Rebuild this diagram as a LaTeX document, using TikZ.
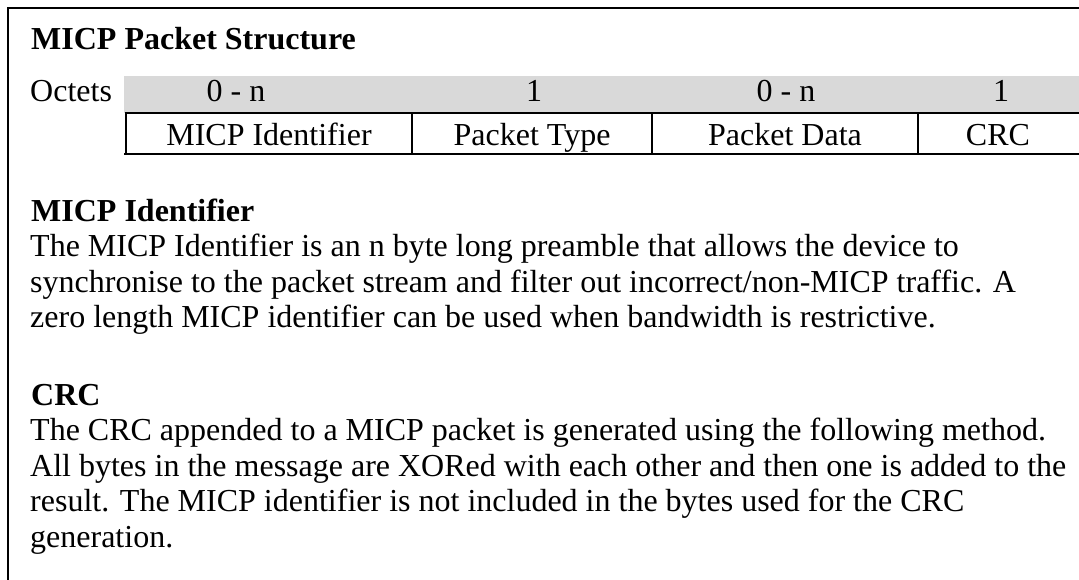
\documentclass[tikz,border=0pt]{standalone}
\usepackage{fontspec}
\setmainfont{Liberation Serif}
\begin{document}
\begin{tikzpicture}[x=1pt,y=-1pt,
  txt/.style={inner sep=0pt,anchor=base west,font=\fontsize{32}{35.5}\selectfont},
  hd/.style={txt,font=\fontsize{32}{35.5}\selectfont\bfseries},
  cell/.style={inner sep=0pt,anchor=base,font=\fontsize{32}{35.5}\selectfont},
  rule/.style={line width=2pt,black}]
\useasboundingbox (0,0) rectangle (1079,579);
% frame
\coordinate (ftl) at (8,8);
\coordinate (ftr) at (1079,8);
\coordinate (fbl) at (8,579);
\draw[rule,line cap=rect] (fbl) -- (ftl) -- (ftr);
% header gray band
\fill[black!15] (124,76) rectangle (1079,113);
% table lines
\coordinate (t1) at (126,113);
\coordinate (t2) at (1079,113);
\coordinate (b1) at (124,154);
\coordinate (b2) at (1079,154);
\draw[rule] (t1) -- (t2);
\draw[rule] (b1) -- (b2);
\draw[rule] (126,112) -- (126,155);
\draw[rule] (412,113) -- (412,154);
\draw[rule] (652,113) -- (652,154);
\draw[rule] (918,113) -- (918,154);
% title
\node[hd] (title) at (31,49) {MICP Packet Structure};
\node[txt] (oct) at (30,101) {Octets};
\node[cell] (h1) at (236,101) {0 - n};
\node[cell] (h2) at (534,101) {1};
\node[cell] (h3) at (786,101) {0 - n};
\node[cell] (h4) at (1001,101) {1};
\node[cell] (c1) at (269,145) {MICP Identifier};
\node[cell] (c2) at (532,145) {Packet Type};
\node[cell] (c3) at (785,145) {Packet Data};
\node[cell] (c4) at (998,145) {CRC};
% MICP Identifier paragraph
\node[hd] (h-id) at (31,221) {MICP Identifier};
\node[txt] (l1) at (30,256.5) {The MICP Identifier is an n byte long preamble that allows the device to};
\node[txt] (l2) at (30,292) {synchronise to the packet stream and filter out incorrect/non-MICP traffic. A};
\node[txt] (l3) at (30,327.5) {zero length MICP identifier can be used when bandwidth is restrictive.};
% CRC paragraph
\node[hd] (h-crc) at (31,405) {CRC};
\node[txt] (m1) at (30,440.5) {The CRC appended to a MICP packet is generated using the following method.};
\node[txt] (m2) at (30,476) {All bytes in the message are XORed with each other and then one is added to the};
\node[txt] (m3) at (30,511.5) {result. The MICP identifier is not included in the bytes used for the CRC};
\node[txt] (m4) at (30,547) {generation.};
\end{tikzpicture}
\end{document}
